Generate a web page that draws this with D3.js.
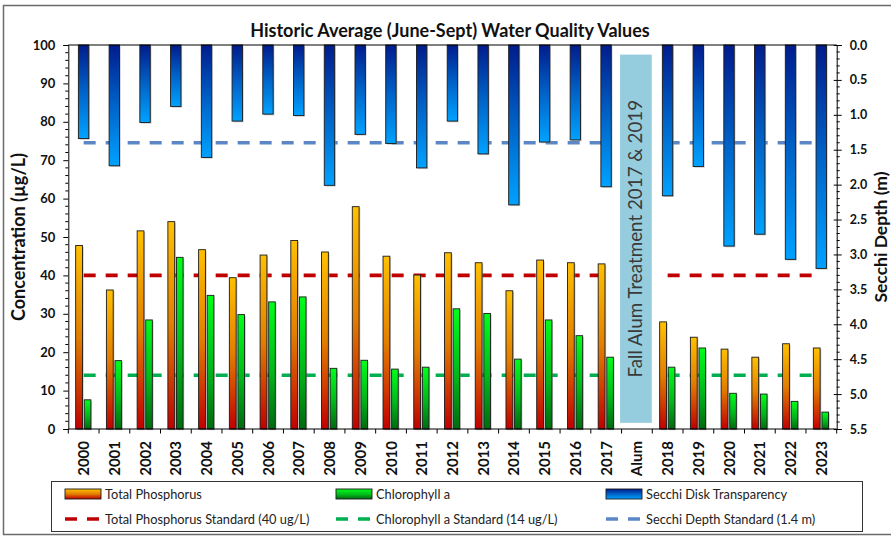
<!DOCTYPE html>
<html>
<head>
<meta charset="utf-8">
<script src="https://cdn.jsdelivr.net/npm/d3@7"></script>
<style>
  html, body { margin: 0; padding: 0; background: #fff; }
  svg { display: block; }
  text { font-family: Lato, "Open Sans", "DejaVu Sans", sans-serif; }
</style>
</head>
<body>
<script>
// ---------------- data ----------------
const categories = ["2000","2001","2002","2003","2004","2005","2006","2007","2008","2009",
  "2010","2011","2012","2013","2014","2015","2016","2017","Alum","2018","2019","2020","2021","2022","2023"];
const totalPhosphorus = [47.8,36.2,51.6,54.0,46.7,39.4,45.3,49.1,46.1,57.9,45.0,40.1,45.9,43.3,36.0,44.0,43.3,43.0,null,27.9,23.9,20.8,18.7,22.2,21.1];
const chlorophyllA = [7.6,17.8,28.4,44.7,34.8,29.8,33.1,34.4,15.8,17.9,15.6,16.1,31.3,30.1,18.2,28.4,24.3,18.7,null,16.1,21.1,9.3,9.1,7.2,4.4];
const secchiDepth = [1.34,1.73,1.11,0.88,1.61,1.09,0.99,1.01,2.01,1.28,1.41,1.76,1.09,1.56,2.29,1.39,1.36,2.03,null,2.16,1.74,2.88,2.71,3.07,3.20];
const tpStandard = 40;
const chlStandard = 14;
const secchiStandard = 1.4;
const leftTicks = [0,10,20,30,40,50,60,70,80,90,100];
const rightTicks = [0,0.5,1,1.5,2,2.5,3,3.5,4,4.5,5,5.5];
const titleText = "Historic Average (June-Sept) Water Quality Values";
const leftTitle = "Concentration (µg/L)";
const rightTitle = "Secchi Depth (m)";
const alumNote = "Fall Alum Treatment 2017 & 2019";
const legendItems = [
  {label: "Total Phosphorus", type: "bar", key: "tp"},
  {label: "Chlorophyll a", type: "bar", key: "chl"},
  {label: "Secchi Disk Transparency", type: "bar", key: "sec"},
  {label: "Total Phosphorus Standard (40 ug/L)", type: "line", key: "tpL"},
  {label: "Chlorophyll a Standard (14 ug/L)", type: "line", key: "chlL"},
  {label: "Secchi Depth Standard (1.4 m)", type: "line", key: "secL"}
];

// ---------------- layout ----------------
const W = 891, H = 537;
const plot = {left: 68.3, right: 836.7, top: 45, bottom: 429};
const colors = {tpL: "#C00000", chlL: "#00B050", secL: "#5B87C6"};

const svg = d3.select("body").append("svg").attr("width", W).attr("height", H);
const defs = svg.append("defs");
function vgrad(id, stops) {
  const g = defs.append("linearGradient").attr("id", id)
    .attr("x1", 0).attr("y1", 0).attr("x2", 0).attr("y2", 1);
  stops.forEach(s => g.append("stop").attr("offset", s[0]).attr("stop-color", s[1]));
}
vgrad("gTP", [[0, "#FFC000"], [0.5, "#E27E00"], [1, "#C00000"]]);
vgrad("gCHL", [[0, "#00FF1A"], [0.55, "#00B81A"], [1, "#006A10"]]);
vgrad("gSEC", [[0, "#001C8C"], [0.5, "#0063C8"], [1, "#00A2FF"]]);
const fills = {tp: "url(#gTP)", chl: "url(#gCHL)", sec: "url(#gSEC)"};

// outer frame
svg.append("rect").attr("x", 3.5).attr("y", 5.5).attr("width", W + 10).attr("height", 529)
  .attr("fill", "none").attr("stroke", "#6b6b6b").attr("stroke-width", 1.5);

// scales
const x = d3.scaleBand().domain(categories).range([plot.left, plot.right]).padding(0);
const yL = d3.scaleLinear().domain([0, 100]).range([plot.bottom, plot.top]);
const yR = d3.scaleLinear().domain([0, 5.5]).range([plot.top, plot.bottom]);
const cx = c => x(c) + x.bandwidth() / 2;

// title
svg.append("text").attr("x", 450).attr("y", 36.5).attr("text-anchor", "middle")
  .attr("font-size", 18).attr("font-weight", "bold").attr("fill", "#111").text(titleText);

// alum annotation box
const alumBox = {top: 97.5, bottom: 1.6};
svg.append("rect")
  .attr("x", x("Alum") - 1.5).attr("width", x.bandwidth() + 1)
  .attr("y", yL(alumBox.top)).attr("height", yL(alumBox.bottom) - yL(alumBox.top))
  .attr("fill", "#96CDDE");
svg.append("text")
  .attr("transform", `translate(${cx("Alum") + 5.5},${(yL(alumBox.top) + yL(alumBox.bottom)) / 2}) rotate(-90)`)
  .attr("text-anchor", "middle").attr("font-size", 18.8).attr("fill", "#3a3a3a").text(alumNote);

// standard lines (behind bars), gap at Alum
function stdLine(val, scale, color) {
  const line = d3.line().defined(d => d !== "Alum").x(d => cx(d)).y(() => scale(val));
  svg.append("path").datum(categories).attr("d", line)
    .attr("fill", "none").attr("stroke", color).attr("stroke-width", 3.6)
    .attr("stroke-dasharray", "12,10");
}
stdLine(tpStandard, yL, colors.tpL);
stdLine(chlStandard, yL, colors.chlL);
stdLine(secchiStandard, yR, colors.secL);

// bars
function bars(values, xoff, w, yfn, fill) {
  const data = categories.map((c, i) => ({c, v: values[i]})).filter(d => d.v != null);
  const g = svg.append("g");
  g.selectAll("rect.sh").data(data).join("rect")
    .attr("x", d => cx(d.c) + xoff + 1.2).attr("width", w)
    .attr("y", d => yfn(d).y + 1.2).attr("height", d => yfn(d).h)
    .attr("fill", "#9a9a9a").attr("opacity", 0.55);
  g.selectAll("rect.b").data(data).join("rect")
    .attr("x", d => cx(d.c) + xoff).attr("width", w)
    .attr("y", d => yfn(d).y).attr("height", d => yfn(d).h)
    .attr("fill", fill).attr("stroke", "#1a1a1a").attr("stroke-width", 0.9);
}
bars(totalPhosphorus, -8, 6.8, d => ({y: yL(d.v), h: yL(0) - yL(d.v)}), fills.tp);
bars(chlorophyllA, 0.6, 6.6, d => ({y: yL(d.v), h: yL(0) - yL(d.v)}), fills.chl);
bars(secchiDepth, -5.3, 10.4, d => ({y: yR(0), h: yR(d.v) - yR(0)}), fills.sec);

// plot frame
svg.append("line").attr("x1", plot.left).attr("x2", plot.right).attr("y1", plot.top).attr("y2", plot.top)
  .attr("stroke", "#000").attr("stroke-width", 1);

// left axis
const leftAxis = d3.axisLeft(yL).tickValues(leftTicks).tickSize(5).tickPadding(8).tickFormat(d3.format("d"));
const gl = svg.append("g").attr("transform", `translate(${plot.left},0)`).call(leftAxis);
gl.select(".domain").attr("stroke", "#000");
gl.selectAll(".tick line").attr("stroke", "#000");
gl.selectAll(".tick text").attr("font-size", 13).attr("font-weight", "bold").attr("fill", "#111")
  .style("font-family", "Lato, sans-serif");
const minorL = d3.range(0, 100.01, 2).filter(v => v % 10 !== 0);
svg.append("g").selectAll("line").data(minorL).join("line")
  .attr("x1", plot.left - 3).attr("x2", plot.left).attr("y1", d => yL(d)).attr("y2", d => yL(d))
  .attr("stroke", "#000");

// right axis
const rightAxis = d3.axisRight(yR).tickValues(rightTicks).tickSize(5).tickPadding(8).tickFormat(d3.format(".1f"));
const gr = svg.append("g").attr("transform", `translate(${plot.right},0)`).call(rightAxis);
gr.select(".domain").attr("stroke", "#000");
gr.selectAll(".tick line").attr("stroke", "#000").attr("x1", -3);
gr.selectAll(".tick text").attr("font-size", 12.5).attr("font-weight", "bold").attr("fill", "#111")
  .style("font-family", "Lato, sans-serif");
const minorR = d3.range(0, 55.01, 1).filter(v => v % 5 !== 0).map(v => v / 10);
svg.append("g").selectAll("line").data(minorR).join("line")
  .attr("x1", plot.right).attr("x2", plot.right + 3).attr("y1", d => yR(d)).attr("y2", d => yR(d))
  .attr("stroke", "#000");

// bottom axis
svg.append("line").attr("x1", plot.left).attr("x2", plot.right).attr("y1", plot.bottom).attr("y2", plot.bottom)
  .attr("stroke", "#000");
const bounds = categories.map(c => x(c)).concat([plot.right]);
svg.append("g").selectAll("line").data(bounds).join("line")
  .attr("x1", d => d).attr("x2", d => d).attr("y1", plot.bottom).attr("y2", plot.bottom + 4.5)
  .attr("stroke", "#000");
svg.append("g").selectAll("text").data(categories).join("text")
  .attr("transform", d => `translate(${cx(d) + 5.5},${plot.bottom + 12}) rotate(-90)`)
  .attr("text-anchor", "end").attr("font-size", 15).attr("font-weight", "bold").attr("fill", "#111")
  .text(d => d);

// axis titles
svg.append("text").attr("transform", `translate(25,${(plot.top + plot.bottom) / 2}) rotate(-90)`)
  .attr("text-anchor", "middle").attr("font-size", 18).attr("font-weight", "bold").attr("fill", "#111").text(leftTitle);
svg.append("text").attr("transform", `translate(887,${(plot.top + plot.bottom) / 2}) rotate(-90)`)
  .attr("text-anchor", "middle").attr("font-size", 17.5).attr("font-weight", "bold").attr("fill", "#111").text(rightTitle);

// legend
svg.append("rect").attr("x", 51.5).attr("y", 481.5).attr("width", 811).attr("height", 50)
  .attr("fill", "#fff").attr("stroke", "#333").attr("stroke-width", 1);
const colX = [65, 336, 606];
const rowY = [494, 519];
legendItems.forEach((it, i) => {
  const col = i % 3, row = Math.floor(i / 3);
  const gx = colX[col], gy = rowY[row];
  if (it.type === "bar") {
    svg.append("rect").attr("x", gx).attr("y", gy - 5).attr("width", 36).attr("height", 10)
      .attr("fill", fills[it.key]).attr("stroke", "#1a1a1a").attr("stroke-width", 0.9);
  } else {
    svg.append("line").attr("x1", gx).attr("x2", gx + 36).attr("y1", gy).attr("y2", gy)
      .attr("stroke", colors[it.key]).attr("stroke-width", 3.6).attr("stroke-dasharray", "12,10");
  }
  svg.append("text").attr("x", gx + 40).attr("y", gy + 4.5).attr("font-size", 12.8).attr("fill", "#222").text(it.label);
});
</script>
</body>
</html>
